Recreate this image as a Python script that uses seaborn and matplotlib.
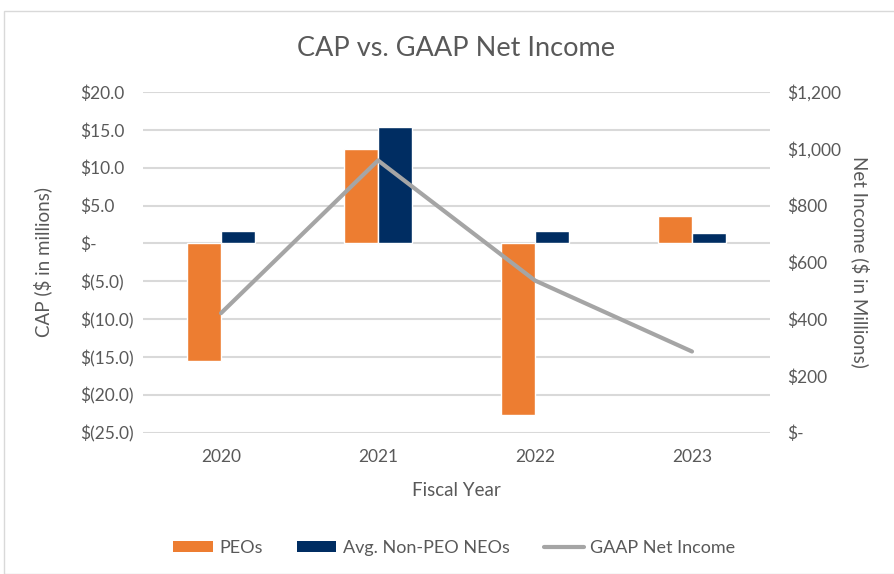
import matplotlib
matplotlib.use("Agg")
import matplotlib.pyplot as plt
import seaborn as sns
import pandas as pd
import numpy as np
from matplotlib.patches import Rectangle, Patch
from matplotlib.lines import Line2D

years = ["2020", "2021", "2022", "2023"]
peo_cap = [-15.5, 12.5, -22.6, 3.6]
neo_cap = [1.7, 15.35, 1.7, 1.4]
net_income = [421, 959, 536, 286]
series_names = ["PEOs", "Avg. Non-PEO NEOs"]
left_ticks = [20, 15, 10, 5, 0, -5, -10, -15, -20, -25]
right_ticks = [1200, 1000, 800, 600, 400, 200, 0]

sns.set_theme(style="white")
plt.rcParams["font.family"] = ["Lato", "DejaVu Sans"]

TXT = "#595959"
ORANGE = "#ED7D31"
NAVY = "#002D62"
GRAY = "#A5A5A5"

df = pd.DataFrame({
    "year": years * 2,
    "value": peo_cap + neo_cap,
    "series": [series_names[0]] * 4 + [series_names[1]] * 4,
})

fig = plt.figure(figsize=(8.94, 5.74), dpi=100)
fig.patches.append(Rectangle((4 / 894, 0), 1.2, 1 - 11 / 574, transform=fig.transFigure,
                             fill=False, edgecolor="#D9D9D9", linewidth=1))
ax = fig.add_axes([142.5 / 894, (574 - 432.7) / 574, 628 / 894, 340.7 / 574])

sns.barplot(data=df, x="year", y="value", hue="series", palette=[ORANGE, NAVY],
            width=0.434, ax=ax, legend=False, saturation=1)
ax.set_ylim(-25, 20)
ax.set_xlim(-0.5, 3.5)
ax.set_yticks(left_ticks)

def lfmt(v):
    if v == 0:
        return "$-"
    if v < 0:
        return "$(%.1f)" % abs(v)
    return "$%.1f" % v

ax.set_yticklabels([lfmt(v) for v in left_ticks], color=TXT, fontsize=12.5)
for lab in ax.get_yticklabels():
    lab.set_horizontalalignment("left")
ax.tick_params(axis="y", length=0, pad=45)
ax.tick_params(axis="x", length=0, pad=12, labelsize=12.5, labelcolor=TXT)
ax.grid(axis="y", color="#D9D9D9", linewidth=1.5)
ax.set_axisbelow(True)
for s in ax.spines.values():
    s.set_visible(False)
ax.set_xlabel("Fiscal Year", color=TXT, fontsize=13.5, labelpad=12)
ax.set_ylabel("CAP ($ in millions)", color=TXT, fontsize=13.5)
ax.yaxis.set_label_coords((43 - 142.5) / 628, 0.5)
ax.yaxis.label.set_va("center")

ax2 = ax.twinx()
ldf = pd.DataFrame({"x": np.arange(len(years)), "ni": net_income})
sns.lineplot(data=ldf, x="x", y="ni", color=GRAY, linewidth=3, ax=ax2, legend=False)
ax2.set_ylim(0, 1200)
ax2.set_yticks(right_ticks)
ax2.set_yticklabels(["$-" if v == 0 else "${:,}".format(v) for v in right_ticks],
                    color=TXT, fontsize=12.5)
ax2.tick_params(axis="y", length=0, pad=12)
for s in ax2.spines.values():
    s.set_visible(False)
ax2.set_ylabel("Net Income ($ in Millions)", color=TXT, fontsize=13.5, rotation=-90)
ax2.yaxis.set_label_coords((860 - 142.5) / 628, 0.5)
ax2.yaxis.label.set_va("center")
ax2.set_xlabel("")

fig.text(456 / 894, 1 - 48 / 574, "CAP vs. GAAP Net Income", ha="center", va="center",
         fontsize=19.5, color=TXT)

handles = [Patch(facecolor=ORANGE, edgecolor="none"),
           Patch(facecolor=NAVY, edgecolor="none"),
           Line2D([0], [0], color=GRAY, linewidth=3)]
fig.legend(handles, series_names + ["GAAP Net Income"], loc="center",
           bbox_to_anchor=(454 / 894, 1 - 548 / 574), ncol=3, frameon=False,
           fontsize=13, labelcolor=TXT, handlelength=2.2, handleheight=0.5,
           columnspacing=1.9, handletextpad=0.35)

fig.savefig("out.png", dpi=100)
